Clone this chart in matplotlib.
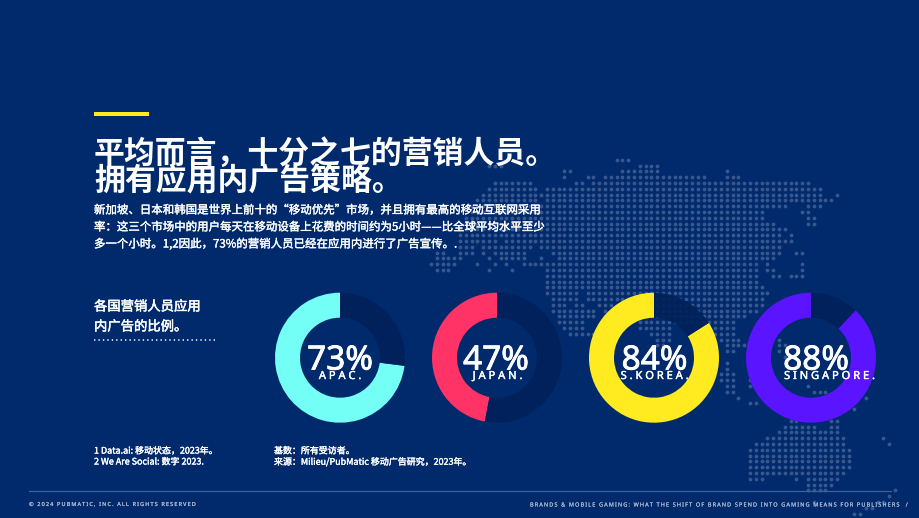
import matplotlib
matplotlib.use('Agg')
import matplotlib.pyplot as plt
import matplotlib.patheffects as pe

W, H = 920, 518
bg = '#002A6C'
dot_col = '#38578E'
dark = '#00215A'

title_lines = ['平均而言，十分之七的营销人员。', '拥有应用内广告策略。']
body_lines = ['新加坡、日本和韩国是世界上前十的“移动优先”市场，并且拥有最高的移动互联网采用',
              '率：这三个市场中的用户每天在移动设备上花费的时间约为5小时——比全球平均水平至少',
              '多一个小时。1,2因此，73%的营销人员已经在应用内进行了广告宣传。.']
side_lines = ['各国营销人员应用', '内广告的比例。']
notes_left = ['1 Data.ai: 移动状态，2023年。', '2 We Are Social: 数字 2023.']
notes_right = ['基数：所有受访者。', '来源：Milieu/PubMatic 移动广告研究，2023年。']
footer_left = '© 2024 PUBMATIC, INC. ALL RIGHTS RESERVED'
footer_right = 'BRANDS & MOBILE GAMING: WHAT THE SHIFT OF BRAND SPEND INTO GAMING MEANS FOR PUBLISHERS  /'

regions = ['APAC.', 'JAPAN.', 'S.KOREA.', 'SINGAPORE.']
shares = [73, 47, 84, 88]
ring_cols = ['#73FFF5', '#FF3366', '#FFEB1F', '#5A14FF']
ring_x = [340, 497, 654, 811]
pct_x = [340, 496, 654.5, 816]
label_x = [340, 497.5, 654.5, 829.5]

# background world map, row number -> runs of dot columns
map_rows = {
    0: [(32, 34)], 1: [(10, 12), (36, 39)], 2: [(23, 24), (33, 39), (51, 51)],
    3: [(23, 23), (27, 28), (30, 47), (51, 53)], 4: [(11, 17), (25, 26), (28, 65)],
    5: [(10, 18), (20, 67)], 6: [(9, 18), (19, 67), (70, 70)], 7: [(8, 18), (20, 69)],
    8: [(7, 61), (65, 67)], 9: [(7, 57), (64, 65)], 10: [(6, 57), (65, 66)],
    11: [(6, 59), (65, 66)], 12: [(5, 61)], 13: [(5, 60), (62, 62)],
    14: [(5, 11), (13, 62)], 15: [(5, 7), (9, 17), (19, 60)],
    16: [(1, 2), (5, 7), (9, 9), (11, 16), (21, 60), (63, 64)],
    17: [(1, 5), (10, 10), (12, 16), (19, 19), (22, 59)],
    18: [(0, 4), (8, 8), (11, 11), (13, 13), (16, 56), (58, 58), (64, 64)],
    19: [(1, 3), (10, 10), (14, 14), (20, 56), (58, 59), (64, 64)],
    20: [(20, 56), (59, 60), (62, 64)], 21: [(20, 56)], 22: [(20, 57)],
    23: [(20, 25), (27, 58)], 24: [(21, 25), (27, 57)],
    25: [(21, 23), (25, 26), (29, 31), (33, 57)], 26: [(21, 28), (30, 56)],
    27: [(22, 28), (30, 54)], 28: [(22, 26), (36, 52)],
    29: [(23, 26), (36, 41), (49, 52)], 30: [(24, 28), (38, 41), (49, 52)],
    31: [(39, 41), (50, 53), (60, 60)], 32: [(39, 40), (51, 54), (60, 61)],
    33: [(51, 52), (60, 60)], 34: [(61, 61)], 35: [(51, 51)], 36: [(51, 51), (55, 55)],
    37: [(50, 52)], 38: [(50, 52), (55, 55)], 39: [(51, 52), (55, 55), (65, 65)],
    40: [(51, 52), (66, 68)], 41: [(53, 53), (75, 75)], 42: [(55, 56)], 43: [(73, 73)],
    45: [(62, 63), (69, 70)], 46: [(61, 66), (69, 70)], 47: [(60, 70)],
    48: [(58, 71), (78, 78)], 49: [(56, 71), (79, 79)], 50: [(55, 72)], 51: [(55, 72)],
    52: [(55, 72)], 53: [(55, 72)], 54: [(55, 71)],
    55: [(55, 57), (63, 63), (65, 70)], 56: [(65, 69)], 57: [(65, 68), (80, 80)],
    58: [(79, 79)], 59: [(66, 66), (77, 78)], 60: [(75, 76)], 61: [(73, 74)],
}

cjk = ['Noto Sans CJK SC', 'DejaVu Sans']
latin = ['Noto Sans', 'DejaVu Sans']


def thick(width, col='white'):
    return [pe.withStroke(linewidth=width, foreground=col)]


fig = plt.figure(figsize=(W / 100, H / 100), dpi=100, facecolor=bg)

# back layer, pixel coordinates
back = fig.add_axes([0, 0, 1, 1], zorder=0)
back.set_xlim(0, W)
back.set_ylim(H, 0)
back.axis('off')

xs, ys = [], []
for r, runs in map_rows.items():
    for c0, c1 in runs:
        for c in range(c0, c1 + 1):
            xs.append(431 + 5.8 * c)
            ys.append(159.7 + 5.8 * r)
back.scatter(xs, ys, s=7.5, c=dot_col, linewidths=0)

# donuts
for share, col, cx in zip(shares, ring_cols, ring_x):
    ax = fig.add_axes([(cx - 65) / W, 1 - (357.7 + 65) / H, 130 / W, 130 / H], zorder=1)
    wedges, _ = ax.pie([share, 100 - share], colors=[col, dark], startangle=90, counterclock=True,
                       radius=1, wedgeprops={'width': 25 / 65, 'linewidth': 0})
    wedges[1].set_alpha(0.92)
    ax.set_xlim(-1, 1)
    ax.set_ylim(-1, 1)
    ax.patch.set_alpha(0)

# text layer
top = fig.add_axes([0, 0, 1, 1], zorder=2)
top.set_xlim(0, W)
top.set_ylim(H, 0)
top.axis('off')
top.patch.set_alpha(0)

top.fill_between([94, 149], 112.3, 116.3, color='#FFEB1F', linewidth=0)

for y, s in zip([154, 181], title_lines):
    top.text(94, y, s, family=cjk, weight='bold', fontsize=22.2, color='white', ha='left', va='center')
for y, s in zip([210, 227, 244], body_lines):
    top.text(94, y, s, family=cjk, fontsize=8.25, color='white', ha='left', va='center',
             path_effects=thick(0.25))
for y, s in zip([306.5, 326.5], side_lines):
    top.text(94, y, s, family=cjk, fontsize=9.6, color='white', ha='left', va='center',
             path_effects=thick(0.35))
top.plot([94, 216], [339.5, 339.5], color='white', lw=1.1, ls=(0, (0.9, 2.0)))

for share, region, px, lx in zip(shares, regions, pct_x, label_x):
    top.text(px, 361, f'{share}%', family=latin, fontsize=24, color='white',
             ha='center', va='center', path_effects=thick(0.6))
    top.text(lx, 376.5, ' '.join(region), family=latin, fontsize=8, color='white',
             ha='center', va='center', path_effects=thick(0.3))

for y, s in zip([451, 462], notes_left):
    top.text(94, y, s, family=cjk, fontsize=6.45, color='white', ha='left', va='center',
             path_effects=thick(0.25))
for y, s in zip([451, 462], notes_right):
    top.text(274, y, s, family=cjk, fontsize=6.45, color='white', ha='left', va='center',
             path_effects=thick(0.25))

top.plot([29, 891], [491, 491], color='#41609A', lw=0.9)
foot_col = '#A9B8D2'
track = '\u200a\u200a'
top.text(29, 504.5, track.join(footer_left), family=latin, fontsize=4.0, color=foot_col, ha='left', va='center',
         path_effects=thick(0.12, foot_col))
top.text(530, 505, track.join(footer_right), family=latin, fontsize=4.0, color=foot_col, ha='left', va='center',
         path_effects=thick(0.12, foot_col))

fig.savefig('out.png', dpi=100, facecolor=bg)
